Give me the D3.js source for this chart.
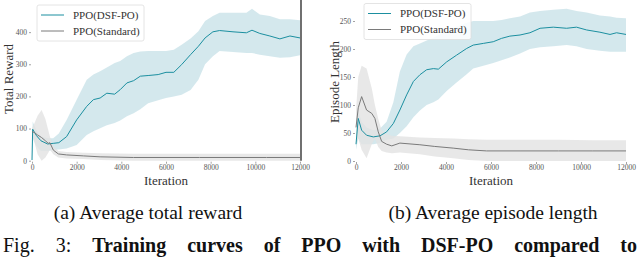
<!DOCTYPE html>
<html>
<head>
<meta charset="utf-8">
<script src="https://cdn.jsdelivr.net/npm/d3@7"></script>
<style>
  body { margin: 0; background: #fff; }
  svg text { font-family: "Liberation Serif", "Times New Roman", Times, serif !important; }
</style>
</head>
<body>
<svg id="fig" width="640" height="258"></svg>
<script>
// ---- data ----
var xTicks = [0, 2000, 4000, 6000, 8000, 10000, 12000];
var seriesNames = ["PPO(DSF-PO)", "PPO(Standard)"];

// (a) total reward
var rewardDsfIter = [0, 30, 200, 400, 700, 950, 1200, 1550, 2000, 2450, 2750, 3050, 3350, 3700, 3950, 4250, 4550, 4850, 5200, 5650, 6000, 6350, 6700, 7100, 7450, 7750, 8100, 8400, 9000, 9600, 9850, 10200, 10650, 11100, 11550, 12000];
var rewardDsfMean = [2, 98, 78, 62, 52, 54, 56, 75, 127, 169, 190, 195, 210, 207, 221, 242, 249, 263, 265, 268, 275, 275, 299, 330, 356, 382, 401, 405, 401, 398, 406, 396, 388, 379, 388, 382];
var rewardDsfHi = [5, 122, 95, 75, 70, 70, 85, 127, 190, 252, 268, 278, 290, 304, 310, 325, 335, 340, 341, 341, 341, 345, 361, 380, 403, 435, 450, 460, 460, 460, 473, 455, 450, 440, 440, 437];
var rewardDsfLo = [0, 70, 45, 30, 30, 33, 35, 38, 49, 80, 92, 101, 110, 117, 125, 138, 148, 160, 179, 188, 195, 200, 205, 220, 252, 300, 325, 341, 338, 335, 335, 330, 325, 320, 322, 328];

var rewardStdIter = [0, 100, 250, 430, 600, 730, 800, 955, 1180, 1550, 2300, 3050, 4540, 6000, 7500, 9000, 10500, 12000];
var rewardStdMean = [90, 88, 80, 72, 62, 54, 56, 33, 21, 18, 15, 12, 10, 10, 10, 10, 10, 10];
var rewardStdHi = [100, 115, 140, 158, 130, 95, 75, 45, 30, 27, 25, 23, 22, 22, 22, 22, 22, 22];
var rewardStdLo = [80, 60, 20, 0, 10, 25, 35, 20, 10, 7, 5, 2, 0, 0, 0, 0, 0, 0];
var rewardTicks = [0, 100, 200, 300, 400];

// (b) episode length
var lengthDsfIter = [0, 100, 250, 470, 770, 1070, 1360, 1660, 1950, 2250, 2550, 2840, 3140, 3440, 3660, 4030, 4470, 4920, 5210, 5660, 6100, 6470, 6840, 7290, 7730, 8180, 8770, 9360, 9800, 10250, 10840, 11290, 11580, 12000];
var lengthDsfMean = [30, 76, 55, 46, 43, 45, 52, 67, 91, 118, 142, 154, 163, 165, 164, 177, 189, 201, 207, 210, 213, 219, 223, 225, 229, 237, 239, 237, 239, 234, 230, 226, 229, 226];
var lengthDsfHi = [40, 90, 70, 60, 55, 58, 70, 105, 160, 190, 205, 210, 215, 220, 225, 232, 240, 247, 250, 250, 250, 252, 255, 258, 265, 268, 270, 272, 268, 265, 260, 258, 256, 255];
var lengthDsfLo = [20, 40, 30, 30, 30, 32, 38, 40, 50, 62, 78, 90, 100, 105, 110, 125, 140, 155, 165, 170, 175, 180, 185, 192, 200, 203, 205, 207, 205, 200, 197, 195, 195, 195];

var lengthStdIter = [0, 100, 250, 470, 700, 840, 990, 1140, 1360, 1590, 1950, 2840, 3500, 4320, 5000, 5800, 7290, 9000, 10500, 12000];
var lengthStdMean = [60, 95, 115, 91, 85, 76, 52, 35, 30, 27, 32, 29, 26, 23, 20, 18, 18, 18, 18, 18];
var lengthStdHi = [90, 150, 170, 165, 130, 100, 75, 55, 48, 45, 44, 42, 41, 40, 39, 38, 38, 38, 37, 37];
var lengthStdLo = [30, 40, 20, 5, 30, 40, 25, 18, 15, 14, 15, 12, 8, 5, 2, 0, 0, 0, 0, 0];
var lengthTicks = [0, 50, 100, 150, 200, 250];

var subCaptions = ["(a) Average total reward", "(b) Average episode length"];
var figWords = [["Fig.", false], ["3:", false], ["Training", true], ["curves", true], ["of", true], ["PPO", true], ["with", true], ["DSF-PO", true], ["compared", true], ["to", true]];

var tealLine = "#1b8fa0", tealBand = "#cfe6eb";
var grayLine = "#7a7a7a", grayBand = "#e2e2e2";

function zip(it, m, lo, hi) {
  return it.map(function(d, i) { return {x: d, m: m[i], lo: lo[i], hi: hi[i]}; });
}

var svg = d3.select("#fig");

function drawPanel(opt) {
  var x = d3.scaleLinear().domain([0, 12000]).range([opt.x0, opt.x1]);
  var y = d3.scaleLinear().domain([0, opt.yMax]).range([opt.yBottom, 0]);
  var g = svg.append("g");

  var area = d3.area().x(function(d) { return x(d.x); })
      .y0(function(d) { return y(d.lo); }).y1(function(d) { return y(d.hi); });
  var line = d3.line().x(function(d) { return x(d.x); }).y(function(d) { return y(d.m); });

  var grey = zip(opt.std[0], opt.std[1], opt.std[3], opt.std[2]);
  var teal = zip(opt.dsf[0], opt.dsf[1], opt.dsf[3], opt.dsf[2]);

  g.append("path").datum(teal).attr("d", area).attr("fill", tealBand).attr("opacity", 0.9);
  g.append("path").datum(grey).attr("d", area).attr("fill", grayBand).attr("opacity", 0.8);
  g.append("path").datum(teal).attr("d", line).attr("fill", "none").attr("stroke", tealLine).attr("stroke-width", 1);
  g.append("path").datum(grey).attr("d", line).attr("fill", "none").attr("stroke", grayLine).attr("stroke-width", 1);

  // axes
  var ya = g.append("g").attr("transform", "translate(" + (opt.x0 - 1) + ",0)")
      .call(d3.axisLeft(y).tickValues(opt.yTicks).tickSize(2).tickPadding(2));
  var xa = g.append("g").attr("transform", "translate(0," + (opt.yBottom + 1) + ")")
      .call(d3.axisBottom(x).tickValues(xTicks).tickSize(2).tickPadding(1).tickFormat(d3.format("d")));
  [ya, xa].forEach(function(a) {
    a.select(".domain").remove();
    a.selectAll("line").attr("stroke", "#666").attr("stroke-width", 0.6);
    a.selectAll("text").attr("fill", "#555").attr("font-size", 7.5);
  });

  if (opt.rightSpine) {
    g.append("line").attr("x1", opt.x1 + 1).attr("x2", opt.x1 + 1).attr("y1", 0).attr("y2", opt.yBottom)
      .attr("stroke", "#111").attr("stroke-width", 1.2);
  }

  g.append("text").attr("transform", "translate(" + opt.yTitleX + "," + opt.yTitleY + ") rotate(-90)")
    .attr("text-anchor", "middle").attr("font-size", 13).attr("fill", "#333").text(opt.yTitle);
  g.append("text").attr("x", (opt.x0 + opt.x1) / 2).attr("y", 185)
    .attr("text-anchor", "middle").attr("font-size", 13).attr("fill", "#333").text("Iteration");

  // legend
  var lg = g.append("g").attr("transform", "translate(" + opt.legX + "," + opt.legY + ")");
  lg.append("rect").attr("width", 107).attr("height", 36).attr("rx", 2)
    .attr("fill", "#fff").attr("fill-opacity", 0.85).attr("stroke", "#ddd").attr("stroke-width", 0.8);
  var items = lg.selectAll("g.item").data(seriesNames).enter().append("g")
    .attr("transform", function(d, i) { return "translate(0," + (10 + i * 16) + ")"; });
  items.append("line").attr("x1", 4).attr("x2", 27)
    .attr("stroke", function(d, i) { return i ? grayLine : tealLine; }).attr("stroke-width", 1);
  items.append("text").attr("x", 36).attr("y", 3.5).attr("font-size", 11).attr("fill", "#333")
    .text(function(d) { return d; });
}

drawPanel({
  x0: 32, x1: 300, yBottom: 160.7, yMax: 500, yTicks: rewardTicks,
  dsf: [rewardDsfIter, rewardDsfMean, rewardDsfHi, rewardDsfLo],
  std: [rewardStdIter, rewardStdMean, rewardStdHi, rewardStdLo],
  yTitle: "Total Reward", yTitleX: 13, yTitleY: 79,
  legX: 37, legY: 5, rightSpine: true
});
drawPanel({
  x0: 356, x1: 626, yBottom: 161, yMax: 287.5, yTicks: lengthTicks,
  dsf: [lengthDsfIter, lengthDsfMean, lengthDsfHi, lengthDsfLo],
  std: [lengthStdIter, lengthStdMean, lengthStdHi, lengthStdLo],
  yTitle: "Episode Length", yTitleX: 339, yTitleY: 82,
  legX: 364, legY: 3.5, rightSpine: false
});

// captions
svg.selectAll("text.sub").data(subCaptions).enter().append("text")
  .attr("class", "sub")
  .attr("x", function(d, i) { return i ? 493 : 148; }).attr("y", 219)
  .attr("text-anchor", "middle").attr("font-size", 19.5).attr("fill", "#111")
  .text(function(d) { return d; });

// justified first line of the figure caption
var fw = svg.selectAll("text.fig").data(figWords).enter().append("text")
  .attr("class", "fig").attr("y", 252)
  .attr("font-size", 20).attr("fill", "#111")
  .attr("font-weight", function(d) { return d[1] ? "bold" : "normal"; })
  .text(function(d) { return d[0]; });
var widths = fw.nodes().map(function(n) { return n.getComputedTextLength(); });
var lineStart = 3, lineEnd = 637;
var gap = (lineEnd - lineStart - d3.sum(widths)) / (widths.length - 1);
var cx = lineStart;
fw.attr("x", function(d, i) { var v = cx; cx += widths[i] + gap; return v; });
</script>
</body>
</html>
